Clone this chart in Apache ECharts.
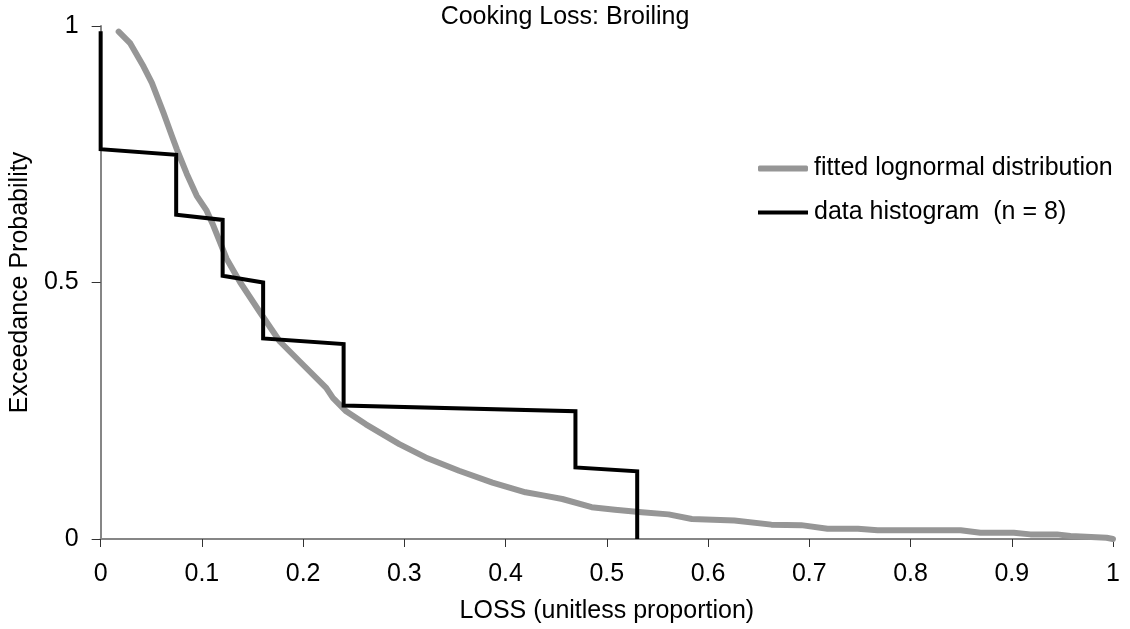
<!DOCTYPE html>
<html>
<head>
<meta charset="utf-8">
<script src="https://cdn.jsdelivr.net/npm/echarts@6/dist/echarts.min.js"></script>
<style>
  html, body { margin: 0; padding: 0; background: #fff; }
  #chart { width: 1130px; height: 629px; }
</style>
</head>
<body>
<div id="chart"></div>
<script>
// Fitted lognormal exceedance curve (LOSS, probability)
const fitX = [0.0178, 0.0293, 0.0424, 0.0506, 0.062, 0.0703, 0.0752, 0.0850, 0.0949, 0.1047,
  0.1113, 0.1244, 0.1376, 0.157, 0.177, 0.1967, 0.2228, 0.2294, 0.2425, 0.262,
  0.295, 0.321, 0.354, 0.387, 0.4197, 0.437, 0.456, 0.485, 0.508, 0.5345,
  0.561, 0.584, 0.626, 0.6625, 0.692, 0.718, 0.748, 0.7675, 0.8495, 0.869,
  0.902, 0.9184, 0.9447, 0.958, 0.9936, 1.0];
const fitY = [0.989, 0.966, 0.921, 0.889, 0.831, 0.786, 0.760, 0.712, 0.669, 0.640,
  0.611, 0.5465, 0.501, 0.443, 0.385, 0.346, 0.2946, 0.275, 0.249, 0.2235,
  0.185, 0.159, 0.133, 0.110, 0.091, 0.085, 0.078, 0.062, 0.057, 0.052,
  0.048, 0.039, 0.036, 0.028, 0.027, 0.020, 0.020, 0.017, 0.017, 0.012,
  0.012, 0.009, 0.009, 0.006, 0.0025, 0.0];

// Step outline of the empirical exceedance histogram (n = 8)
const histX = [0, 0, 0.0746, 0.0746, 0.1205, 0.1205, 0.1605, 0.1605, 0.240, 0.240, 0.469, 0.469, 0.530, 0.530];
const histY = [0.99, 0.760, 0.749, 0.632, 0.622, 0.513, 0.500, 0.391, 0.380, 0.260, 0.249, 0.1395, 0.132, 0];

const xTicks = [0, 0.1, 0.2, 0.3, 0.4, 0.5, 0.6, 0.7, 0.8, 0.9, 1];
const yTicks = [0, 0.5, 1];

const seriesNames = ['fitted lognormal distribution', 'data histogram  (n = 8)'];

const pairs = (xs, ys) => xs.map((x, i) => [x, ys[i]]);
const FONT = '"Liberation Sans", Arial, sans-serif';

const GRAY = '#969696';
const BLACK = '#000';

// one legend block per entry so each key line keeps its own thickness
const legendEntry = (name, top, h, icon, color) => ({
  orient: 'vertical',
  left: 758,
  top: top,
  padding: 0,
  itemWidth: 50,
  itemHeight: h,
  icon: icon,
  data: [{ name: name, itemStyle: { color: color } }],
  selectedMode: false,
  textStyle: { fontFamily: FONT, fontSize: 25, color: '#000', padding: [0, 0, 0, 1] }
});

const tickFormatter = ticks => v => {
  const t = ticks.find(k => Math.abs(k - v) < 1e-9);
  return t === undefined ? '' : String(t);
};

const chart = echarts.init(document.getElementById('chart'), null, { renderer: 'canvas' });
chart.setOption({
  animation: false,
  backgroundColor: '#fff',
  textStyle: { fontFamily: FONT, color: '#000' },
  title: {
    text: 'Cooking Loss: Broiling',
    left: 'center',
    top: 5,
    padding: 0,
    textStyle: { fontFamily: FONT, fontSize: 25, fontWeight: 'normal', color: '#000' }
  },
  legend: [
    legendEntry(seriesNames[0], 156, 6, 'roundRect', GRAY),
    legendEntry(seriesNames[1], 200, 4, 'rect', BLACK)
  ],
  grid: { left: 97, right: 17, top: 26, bottom: 87, containLabel: false },
  xAxis: {
    type: 'value',
    min: 0,
    max: 1,
    interval: 0.1,
    name: 'LOSS (unitless proportion)',
    nameLocation: 'middle',
    nameGap: 60,
    nameTextStyle: { fontFamily: FONT, fontSize: 25, color: '#000' },
    axisLine: { show: true, lineStyle: { color: '#868686', width: 2 } },
    axisTick: { show: true, inside: false, length: 8, lineStyle: { color: '#333', width: 1 } },
    axisLabel: { margin: 23, fontFamily: FONT, fontSize: 25, color: '#000', formatter: tickFormatter(xTicks) },
    splitLine: { show: false }
  },
  yAxis: {
    type: 'value',
    min: 0,
    max: 1,
    interval: 0.5,
    name: 'Exceedance Probability',
    nameLocation: 'middle',
    nameGap: 62,
    nameTextStyle: { fontFamily: FONT, fontSize: 25, color: '#000' },
    axisLine: { show: true, lineStyle: { color: '#868686', width: 2 } },
    axisTick: { show: true, inside: false, length: 9, lineStyle: { color: '#333', width: 1 } },
    axisLabel: { margin: 22, fontFamily: FONT, fontSize: 25, color: '#000', formatter: tickFormatter(yTicks) },
    splitLine: { show: false }
  },
  series: [
    {
      name: seriesNames[0],
      type: 'line',
      data: pairs(fitX, fitY),
      showSymbol: false,
      symbol: 'none',
      lineStyle: { color: GRAY, width: 6, cap: 'round', join: 'round' },
      itemStyle: { color: GRAY },
      z: 2
    },
    {
      name: seriesNames[1],
      type: 'line',
      data: pairs(histX, histY),
      showSymbol: false,
      symbol: 'none',
      lineStyle: { color: BLACK, width: 4, join: 'miter' },
      itemStyle: { color: BLACK },
      z: 3
    }
  ]
});
</script>
</body>
</html>
